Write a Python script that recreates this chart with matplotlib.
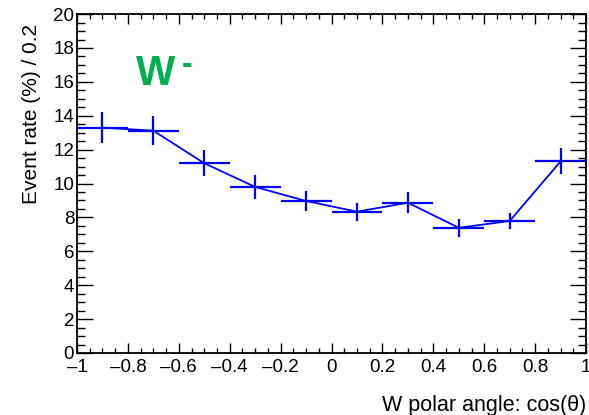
import numpy as np
import matplotlib
matplotlib.use('Agg')
import matplotlib.pyplot as plt
from matplotlib.ticker import MultipleLocator

plt.rcParams['font.family'] = ['Liberation Sans', 'DejaVu Sans']

# binned event rate in cos(theta), bin width 0.2
bin_centers = [-0.9, -0.7, -0.5, -0.3, -0.1, 0.1, 0.3, 0.5, 0.7, 0.9]
bin_half_width = 0.1
event_rate = [13.3, 13.12, 11.2, 9.8, 8.97, 8.34, 8.87, 7.39, 7.79, 11.31]
rate_err = [0.9, 0.87, 0.76, 0.7, 0.6, 0.54, 0.63, 0.53, 0.5, 0.77]
x_ticklabels = ['\u20131', '\u20130.8', '\u20130.6', '\u20130.4', '\u20130.2',
                '0', '0.2', '0.4', '0.6', '0.8', '1']

fig = plt.figure(figsize=(5.89, 4.15), dpi=100)
ax = fig.add_axes([0.1307, 0.1494, 0.8643, 0.8166])

ax.plot(bin_centers, event_rate, color='blue', linewidth=1.3)
ax.errorbar(bin_centers, event_rate, xerr=bin_half_width, yerr=rate_err,
            fmt='none', ecolor='blue', elinewidth=1.6, capsize=0)

ax.set_xlim(-1, 1)
ax.set_ylim(0, 20)
ax.xaxis.set_minor_locator(MultipleLocator(0.05))
ax.yaxis.set_major_locator(MultipleLocator(2))
ax.yaxis.set_minor_locator(MultipleLocator(0.5))
ax.set_xticks(np.linspace(-1, 1, 11))
ax.set_xticklabels(x_ticklabels)

ax.tick_params(which='both', direction='in', top=True, right=True, labelsize=13.5)
ax.tick_params(axis='x', which='major', length=7.2, width=1.0, pad=4.5)
ax.tick_params(axis='x', which='minor', length=3.6, width=1.0)
ax.tick_params(axis='y', which='major', length=11.5, width=1.0, pad=2)
ax.tick_params(axis='y', which='minor', length=5.8, width=1.0)
for s in ax.spines.values():
    s.set_linewidth(1.3)

ax.set_ylabel('Event rate (%) / 0.2', fontsize=15, loc='top')
ax.yaxis.set_label_coords(-0.07, 0.97)
ax.set_xlabel('W polar angle: cos(\u03b8)', fontsize=15.5, loc='right')
ax.xaxis.set_label_coords(1.0, -0.125)

# W- label
ax.text(-0.77, 15.8, 'W', color='#00b050', fontsize=30,
        fontweight='bold', ha='left', va='baseline')
ax.text(-0.59, 16.55, '-', color='#00b050', fontsize=23,
        fontweight='bold', ha='left', va='baseline')

fig.savefig('out.png', dpi=100)
